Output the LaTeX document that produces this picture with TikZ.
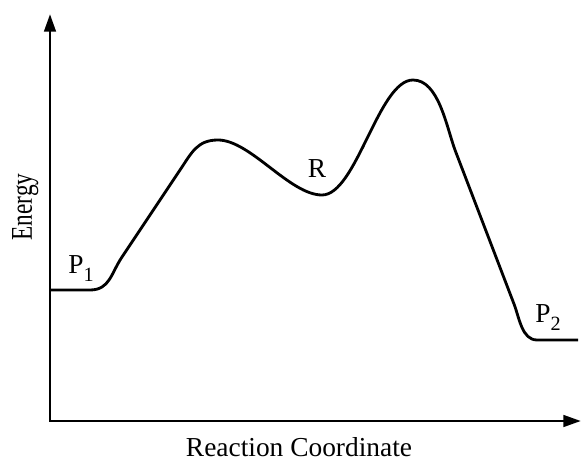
\documentclass[tikz,border=0pt]{standalone}
\usepackage{fontspec}
\setmainfont{Liberation Serif}
\usetikzlibrary{arrows.meta}

\newcommand{\lowidx}[1]{\raisebox{-0.32em}{\fontsize{11.5}{12}\selectfont #1}}

\tikzset{
  axisline/.style={line width=1.7pt, {Triangle[length=10pt,width=6.5pt]}-{Triangle[length=10pt,width=6.5pt]}},
  energyline/.style={line width=1.6pt, line join=round},
  lbl/.style={inner sep=0pt, anchor=base, font=\fontsize{15.6}{18}\selectfont}
}

\begin{document}
\begin{tikzpicture}[x=0.02cm, y=0.02cm]
				\useasboundingbox (0,0) rectangle (581,460);

				% Axes
				\coordinate (origin) at (50,39);
				\coordinate (ytop) at (50,446);
				\coordinate (xend) at (581,39);
				\draw[axisline] (ytop) -- (origin) -- (xend);

				% Axis labels
				\node[lbl, rotate=90] (ylabel) at (32,253) {\scalebox{0.85}[1.1]{Energy}};
				\node[lbl] (xlabel) at (299,4) {Reaction Coordinate};

				% Energy profile
				\draw[energyline] (50,170) -- (90,170) to[out=0,in=236,looseness=1.1] (122,203)
				  -- (180,290) to[out=56,in=180,looseness=1.1] (218,320)
				  to[out=0,in=180,looseness=0.7] (322,265)
				  to[out=0,in=180,looseness=0.6] (413,380)
				  to[out=0,in=110,looseness=0.8] (455,310) -- (514,156)
				  to[out=-69,in=180,looseness=0.9] (537,120) -- (578,120);

				% States
				\node[lbl, anchor=base west] (p1) at (68,187) {P\lowidx{1}};
				\node[lbl] (r) at (317,282) {R};
				\node[lbl, anchor=base west] (p2) at (535,138) {P\lowidx{2}};
\end{tikzpicture}
\end{document}
